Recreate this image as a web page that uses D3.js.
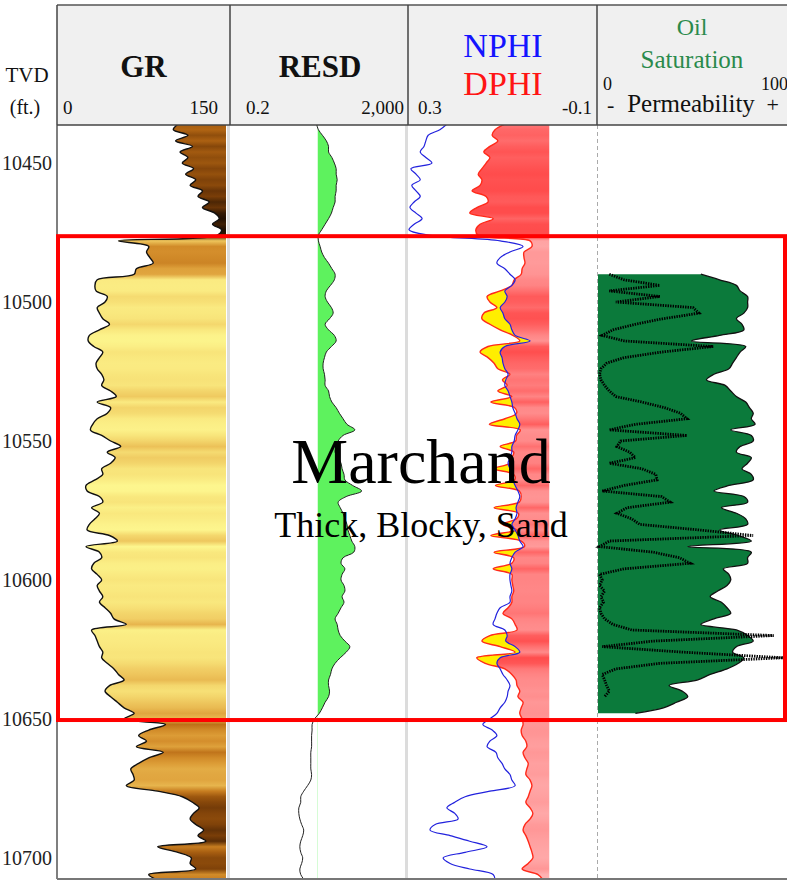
<!DOCTYPE html>
<html>
<head>
<meta charset="utf-8">
<script src="https://cdn.jsdelivr.net/npm/d3@7"></script>
<style>
  body { margin: 0; background: #fff; }
  svg { display: block; }
  text { font-family: "Liberation Serif", "Times New Roman", serif; }
</style>
</head>
<body>
<script>
// log samples, one every 2 ft starting at 10436 ft TVD
const depthTop = 10436, depthStep = 2;

const gr = [
  107,103,116,105,120,109,116,111,121,114,
  123,118,129,125,135,129,140,144,138,146,
  142,54,81,79,82,85,70,68,35,33,
  34,44,42,35,37,40,46,37,28,27,
  32,40,37,34,35,39,41,39,47,52,
  35,47,44,35,31,29,39,47,56,44,
  51,47,39,40,33,25,26,37,40,30,
  37,33,28,26,46,53,25,37,39,32,
  30,35,39,35,37,40,37,42,47,50,
  61,30,33,35,37,40,39,44,50,54,
  59,46,42,47,53,59,68,59,96,81,
  72,79,70,94,81,72,65,67,68,61,
  89,111,120,126,121,118,123,130,125,132,
  89,107,119,118,123,81,89
];

const resd = [
  19,21,26,32,36,36,43,49,54,54,
  57,54,54,51,51,46,42,36,30,25,
  21,21,23,25,29,36,43,51,49,40,
  32,30,34,42,46,38,30,36,49,54,
  42,32,29,27,27,29,30,30,36,38,
  43,54,64,78,96,146,78,60,54,51,
  60,70,74,82,86,130,210,92,60,67,
  78,86,96,101,112,124,146,138,78,70,
  86,74,70,82,86,74,82,70,60,51,
  57,60,67,86,112,92,67,51,43,40,
  36,36,38,36,30,26,22,17,15,15,
  14.6,14.6,14.6,14,14,14,14,14.6,14,11.8,
  9.6,8.2,8.2,7.4,7.4,7.8,8.6,9.6,9.1,8.2,
  7.8,8.2,9.1,8.6,7.8,8.2,10
];

const nphi = [
  .219,.234,.259,.264,.268,.276,.264,.251,.296,.285,
  .276,.294,.285,.276,.289,.298,.285,.272,.289,.300,
  .255,.105,.056,.084,.105,.112,.095,.084,.073,.080,
  .095,.090,.095,.105,.099,.095,.084,.080,.073,.041,
  .095,.105,.101,.099,.095,.088,.093,.095,.088,.084,
  .080,.078,.073,.069,.063,.067,.073,.075,.080,.080,
  .084,.088,.084,.080,.078,.073,.067,.063,.067,.071,
  .069,.073,.080,.073,.067,.063,.056,.073,.080,.084,
  .080,.084,.084,.082,.080,.084,.084,.105,.112,.116,
  .120,.095,.090,.093,.073,.063,.105,.112,.105,.099,
  .090,.084,.088,.090,.095,.105,.112,.127,.142,.122,
  .112,.127,.133,.114,.110,.101,.095,.084,.080,.073,
  .127,.180,.202,.219,.202,.195,.244,.255,.212,.170,
  .133,.180,.227,.212,.170,.120,.116
];

const dphi = [
  .095,.116,.122,.110,.127,.140,.127,.135,.144,.152,
  .144,.148,.165,.135,.131,.155,.170,.120,.148,.157,
  .152,.041,.037,.054,.054,.052,.058,.060,.075,.080,
  .105,.133,.127,.112,.140,.144,.127,.105,.078,.063,
  .131,.148,.131,.118,.110,.084,.100,.090,.110,.080,
  .125,.074,.070,.095,.128,.062,.070,.072,.105,.076,
  .080,.084,.118,.076,.074,.115,.064,.060,.064,.118,
  .066,.070,.100,.070,.125,.060,.053,.118,.076,.080,
  .120,.080,.080,.078,.076,.080,.080,.088,.099,.080,
  .073,.069,.127,.144,.105,.073,.155,.137,.095,.080,
  .071,.069,.063,.067,.056,.060,.063,.058,.056,.060,
  .058,.050,.048,.056,.052,.045,.048,.050,.041,.037,
  .041,.045,.050,.041,.035,.041,.052,.056,.050,.045,
  .041,.037,.035,.045,.058,.024,.013
];

// oil saturation (%) and permeability (mD), only computed inside the sand, from 10490 ft
const satTop = 10490;
const oilSat = [
  55,65,74,76,80,80,80,78,74,77,
  78,65,50,79,76,74,72,70,62,58,
  68,71,74,79,81,83,82,84,71,82,
  83,76,74,82,80,77,82,83,70,62,
  78,80,66,74,79,80,65,75,82,48,
  82,80,80,67,70,71,69,64,60,66,
  69,71,62,55,74,80,83,74,72,78,
  75,69,60,53,38,45,48,42,35,20
];
const perm = [
  0.02,0.05,0.45,0.02,0.45,0.03,3.5,5,0.55,0.1,
  0.025,0.013,0.05,12,0.5,0.05,0.017,0.012,0.011,0.012,
  0.015,0.02,0.03,0.15,0.6,1.6,2.4,0.1,0.02,2.4,
  0.04,0.032,0.07,0.1,0.02,0.15,0.35,0.38,0.05,0.013,
  0.5,0.85,0.06,0.032,0.08,0.13,5,140,0.02,0.011,
  0.3,1.5,2.9,0.05,0.011,0.013,0.011,0.015,0.012,0.014,
  0.011,0.012,0.015,0.025,0.08,500,0.3,0.013,2,890,
  0.45,0.03,0.013,0.015,0.017,0.02,0.015
];

const depthTicks = [10450, 10500, 10550, 10600, 10650, 10700];
const resdCutoff = 20;
const zone = { name: "Marchand", note: "Thick, Blocky, Sand", top: 10476.3, base: 10650.4 };

// ---- layout
const W = 787, H = 882;
const hdrTop = 5, plotTop = 125, plotBottom = 879;
const cols = [57, 230, 408, 597, W];

const y = d3.scaleLinear().domain([10436.3, 10707.6]).range([plotTop, plotBottom]);
const xGR = d3.scaleLinear().domain([0, 150]).range([58, 226]);
const xRes = d3.scaleLog().domain([0.2, 2000]).range([231, 404]);
const xPor = d3.scaleLinear().domain([0.3, -0.1]).range([409, 596]);
const xSat = d3.scaleLinear().domain([0, 100]).range([598, 785]);
const xPerm = d3.scaleLog().domain([0.01, 1000]).range([598, 785]);

const grColor = d3.scaleLinear()
  .domain([25, 40, 55, 75, 100, 125, 145])
  .range(["#fdf68e", "#f8e47a", "#edc35a", "#d99530", "#b86a14", "#7a3e08", "#1e0e02"])
  .clamp(true);
const dphiColor = d3.scaleLinear().domain([0.02, 0.15]).range(["#ffb4b4", "#ff4c4c"]).clamp(true);

const rows = gr.map((g, i) => ({
  depth: depthTop + i * depthStep, gr: g, resd: resd[i], nphi: nphi[i], dphi: dphi[i]
}));
const satRows = oilSat.map((s, i) => ({ depth: satTop + i * depthStep, sat: s, perm: perm[i] }));

const curve = d3.curveCatmullRom.alpha(0.5);

const svg = d3.select("body").append("svg").attr("width", W).attr("height", H);
const defs = svg.append("defs");

defs.append("clipPath").attr("id", "plotClip")
  .append("rect").attr("x", cols[0]).attr("y", plotTop)
  .attr("width", W - cols[0]).attr("height", plotBottom - plotTop);

function vGradient(id, accessor, color) {
  const g = defs.append("linearGradient").attr("id", id)
    .attr("gradientUnits", "userSpaceOnUse")
    .attr("x1", 0).attr("x2", 0)
    .attr("y1", y(rows[0].depth)).attr("y2", y(rows[rows.length - 1].depth));
  g.selectAll("stop").data(rows).join("stop")
    .attr("offset", (d, i) => i / (rows.length - 1))
    .attr("stop-color", d => color(accessor(d)));
}
vGradient("grFill", d => d.gr, grColor);
vGradient("dphiFill", d => d.dphi, dphiColor);

// ---- header
const hdr = svg.append("g");
hdr.append("rect").attr("x", cols[0]).attr("y", hdrTop)
  .attr("width", W - cols[0]).attr("height", plotTop - hdrTop).attr("fill", "#f0f0f0");
hdr.append("line").attr("x1", cols[0]).attr("x2", W).attr("y1", hdrTop).attr("y2", hdrTop)
  .attr("stroke", "#555").attr("stroke-width", 1.5);
hdr.selectAll("line.div").data(cols.slice(0, 4)).join("line").attr("class", "div")
  .attr("x1", d => d).attr("x2", d => d).attr("y1", hdrTop).attr("y2", plotTop)
  .attr("stroke", "#444").attr("stroke-width", 1.5);

function label(x, yy, txt, opts = {}) {
  return hdr.append("text").attr("x", x).attr("y", yy).text(txt)
    .attr("text-anchor", opts.anchor || "middle")
    .attr("font-size", opts.size || 19)
    .attr("font-weight", opts.weight || "normal")
    .attr("fill", opts.color || "#111");
}
label(27, 82, "TVD", { size: 21 });
label(25, 114, "(ft.)", { size: 20 });

label((cols[0] + cols[1]) / 2, 77, "GR", { size: 31, weight: "bold" });
label(63, 114, String(xGR.domain()[0]), { anchor: "start" });
label(218, 114, String(xGR.domain()[1]), { anchor: "end" });

label((cols[1] + cols[2]) / 2 + 1, 77, "RESD", { size: 31, weight: "bold" });
label(246, 114, String(xRes.domain()[0]), { anchor: "start" });
label(404, 114, d3.format(",")(xRes.domain()[1]), { anchor: "end" });

label(503, 57, "NPHI", { size: 34, color: "#1414ff" });
label(503, 95, "DPHI", { size: 34, color: "#ff1414" });
label(418, 114, String(xPor.domain()[0]), { anchor: "start" });
label(592, 114, String(xPor.domain()[1]), { anchor: "end" });

label(692, 35, "Oil", { size: 24, color: "#2a8a4c" });
label(692, 68, "Saturation", { size: 25, color: "#2a8a4c" });
label(603, 90, String(xSat.domain()[0]), { anchor: "start", size: 18 });
label(788, 90, String(xSat.domain()[1]), { anchor: "end", size: 18 });
label(607, 112, "-", { anchor: "start", size: 22 });
label(691, 112, "Permeability", { size: 25 });
label(779, 112, "+", { anchor: "end", size: 22 });

// ---- tracks
const plot = svg.append("g").attr("clip-path", "url(#plotClip)");

// separators inside the plot
plot.append("line").attr("x1", 228.5).attr("x2", 228.5).attr("y1", plotTop).attr("y2", plotBottom)
  .attr("stroke", "#dcdcdc").attr("stroke-width", 3);
plot.append("line").attr("x1", 406.5).attr("x2", 406.5).attr("y1", plotTop).attr("y2", plotBottom)
  .attr("stroke", "#dcdcdc").attr("stroke-width", 3);
plot.append("line").attr("x1", 597.5).attr("x2", 597.5).attr("y1", plotTop).attr("y2", plotBottom)
  .attr("stroke", "#aaa").attr("stroke-width", 1).attr("stroke-dasharray", "4,3");

// GR: filled to the right, coloured by value
plot.append("path").datum(rows)
  .attr("d", d3.area().curve(curve).y(d => y(d.depth)).x0(d => xGR(d.gr)).x1(xGR(150)))
  .attr("fill", "url(#grFill)");
plot.append("path").datum(rows)
  .attr("d", d3.line().curve(curve).x(d => xGR(d.gr)).y(d => y(d.depth)))
  .attr("fill", "none").attr("stroke", "#111").attr("stroke-width", 1.4);

// RESD: green above cutoff
defs.append("clipPath").attr("id", "resClip")
  .append("rect").attr("x", xRes(resdCutoff)).attr("y", plotTop)
  .attr("width", 404 - xRes(resdCutoff)).attr("height", plotBottom - plotTop);
plot.append("path").datum(rows)
  .attr("clip-path", "url(#resClip)")
  .attr("d", d3.area().curve(curve).y(d => y(d.depth)).x0(xRes(resdCutoff)).x1(d => xRes(d.resd)))
  .attr("fill", "#5ef25e");
plot.append("path").datum(rows)
  .attr("d", d3.line().curve(curve).x(d => xRes(d.resd)).y(d => y(d.depth)))
  .attr("fill", "none").attr("stroke", "#222").attr("stroke-width", 1);

// NPHI / DPHI
plot.append("path").datum(rows)
  .attr("d", d3.area().curve(curve).y(d => y(d.depth)).x0(d => xPor(d.dphi)).x1(xPor(0)))
  .attr("fill", "url(#dphiFill)");
defs.append("clipPath").attr("id", "leftOfN").append("path").datum(rows)
  .attr("d", d3.area().curve(curve).y(d => y(d.depth)).x0(xPor(0.3) - 2).x1(d => xPor(d.nphi)));
plot.append("g").attr("clip-path", "url(#leftOfN)")
  .append("path").datum(rows)
  .attr("d", d3.area().curve(curve).y(d => y(d.depth)).x0(d => xPor(d.dphi)).x1(xPor(-0.1)))
  .attr("fill", "#ffee00");
plot.append("path").datum(rows)
  .attr("d", d3.line().curve(curve).x(d => xPor(d.dphi)).y(d => y(d.depth)))
  .attr("fill", "none").attr("stroke", "#ff2a1a").attr("stroke-width", 1.4);
plot.append("path").datum(rows)
  .attr("d", d3.line().curve(curve).x(d => xPor(d.nphi)).y(d => y(d.depth)))
  .attr("fill", "none").attr("stroke", "#2222dd").attr("stroke-width", 1.2);

// oil saturation and permeability
plot.append("path").datum(satRows)
  .attr("d", d3.area().curve(curve).y(d => y(d.depth)).x0(xSat(0)).x1(d => xSat(d.sat)))
  .attr("fill", "#0b7a3b");
plot.append("path").datum(satRows)
  .attr("d", d3.line().curve(curve).x(d => xSat(d.sat)).y(d => y(d.depth)))
  .attr("fill", "none").attr("stroke", "#111").attr("stroke-width", 1.3);
plot.append("path").datum(satRows)
  .attr("d", d3.line().x(d => xPerm(d.perm)).y(d => y(d.depth)))
  .attr("fill", "none").attr("stroke", "#000").attr("stroke-width", 2.8)
  .attr("stroke-dasharray", "1.4,1.1");

// frame of the plot area
svg.append("line").attr("x1", cols[0]).attr("x2", cols[0]).attr("y1", plotTop).attr("y2", plotBottom)
  .attr("stroke", "#555").attr("stroke-width", 1.5);
svg.append("line").attr("x1", cols[0]).attr("x2", W).attr("y1", plotTop).attr("y2", plotTop)
  .attr("stroke", "#444").attr("stroke-width", 1.5);
svg.append("line").attr("x1", cols[0]).attr("x2", W).attr("y1", plotBottom).attr("y2", plotBottom)
  .attr("stroke", "#777").attr("stroke-width", 2);

// depth axis
svg.append("g").attr("transform", "translate(52,0)")
  .call(d3.axisLeft(y).tickValues(depthTicks).tickSize(0).tickPadding(0).tickFormat(d3.format("d")))
  .call(g => g.select(".domain").remove())
  .attr("font-family", "Liberation Serif, serif").attr("font-size", 20)
  .selectAll("text").attr("fill", "#222");

// formation box
svg.append("rect")
  .attr("x", 58).attr("y", y(zone.top))
  .attr("width", 785 - 58).attr("height", y(zone.base) - y(zone.top))
  .attr("fill", "none").attr("stroke", "#ff0000").attr("stroke-width", 4);
svg.append("text").attr("x", 421).attr("y", 483).attr("text-anchor", "middle")
  .attr("font-size", 64).attr("fill", "#000").text(zone.name);
svg.append("text").attr("x", 421).attr("y", 537).attr("text-anchor", "middle")
  .attr("font-size", 36).attr("fill", "#000").text(zone.note);
</script>
</body>
</html>
